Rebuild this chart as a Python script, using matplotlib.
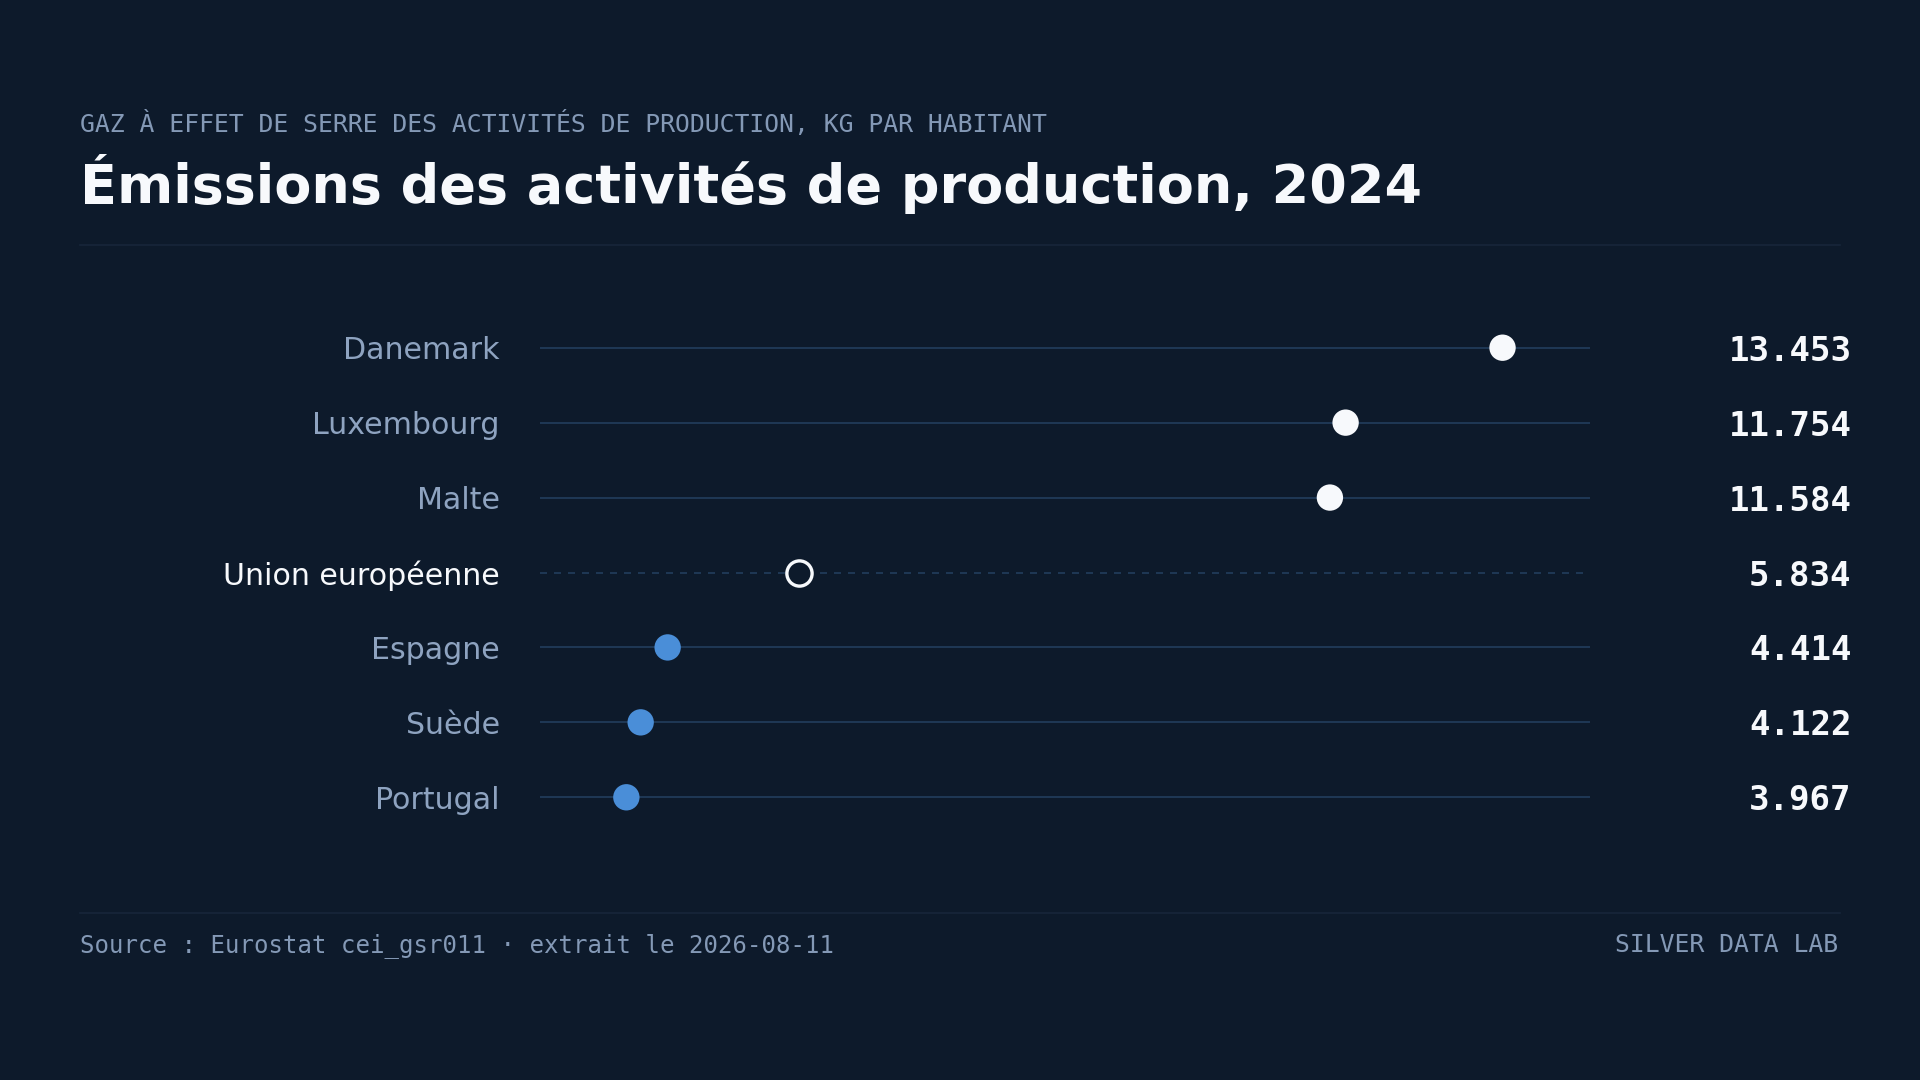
import matplotlib
matplotlib.use("Agg")
import matplotlib.pyplot as plt
import matplotlib.transforms as mtransforms
from matplotlib.lines import Line2D

# ---- data ----
countries = ["Danemark", "Luxembourg", "Malte", "Union européenne", "Espagne", "Suède", "Portugal"]
values = [13.453, 11.754, 11.584, 5.834, 4.414, 4.122, 3.967]
value_labels = ["13.453", "11.754", "11.584", "5.834", "4.414", "4.122", "3.967"]
reference = "Union européenne"

subtitle = "GAZ À EFFET DE SERRE DES ACTIVITÉS DE PRODUCTION, KG PAR HABITANT"
title = "Émissions des activités de production, 2024"
source = "Source : Eurostat cei_gsr011 · extrait le 2026-08-11"
brand = "SILVER DATA LAB"

# ---- style ----
BG = "#0d1a2b"
WHITE = "#f7f9fc"
BLUE = "#4a8ed8"
LABEL = "#8ea3c0"
MUTED = "#8499b6"
TRACK = "#1f3856"
RULE = "#17263a"

W, H = 1920, 1080
fig = plt.figure(figsize=(W / 100, H / 100), dpi=100, facecolor=BG)

# header
fig.text(80 / W, 1 - 132 / H, subtitle, family="DejaVu Sans Mono", fontsize=17.8,
         color=MUTED, va="baseline", ha="left")
fig.text(80 / W, 1 - 203 / H, title, family="DejaVu Sans", fontweight="bold",
         fontsize=38.9, color=WHITE, va="baseline", ha="left")
fig.add_artist(Line2D([80 / W, 1840 / W], [1 - 245 / H, 1 - 245 / H],
                      transform=fig.transFigure, color=RULE, lw=1.2))

# plot area
ax = fig.add_axes([540 / W, 1 - 846 / H, 1050 / W, 547 / H])
ax.set_facecolor(BG)
ax.set_xlim(3.032, 14.40)
n = len(countries)
ax.set_ylim(n - 0.35, -0.65)
ax.axis("off")

ref_val = values[countries.index(reference)]
lab_tr = mtransforms.blended_transform_factory(ax.transAxes, ax.transData)

for i, (c, v, lab) in enumerate(zip(countries, values, value_labels)):
    is_ref = c == reference
    if is_ref:
        ax.plot([3.032, 14.40], [i, i], color=TRACK, lw=1.4, ls=(0, (3.6, 3.6)),
                zorder=1, solid_capstyle="butt")
        ax.scatter([v], [i], s=330, facecolor=BG, edgecolor=WHITE, linewidth=2.4, zorder=3)
    else:
        ax.axhline(i, color=TRACK, lw=1.4, zorder=1)
        col = WHITE if v > ref_val else BLUE
        ax.scatter([v], [i], s=360, color=col, edgecolor="none", zorder=3)
    ax.text(-0.0381, i, c, transform=lab_tr, ha="right", va="center_baseline",
            fontsize=21.6, color=WHITE if is_ref else LABEL, family="DejaVu Sans")
    ax.text(1.2490, i, lab, transform=lab_tr, ha="right", va="center_baseline",
            fontsize=24.5, color=WHITE, family="DejaVu Sans Mono", fontweight="bold")

# footer
fig.add_artist(Line2D([80 / W, 1840 / W], [1 - 913 / H, 1 - 913 / H],
                      transform=fig.transFigure, color=RULE, lw=1.2))
fig.text(80 / W, 1 - 943 / H, source, family="DejaVu Sans Mono", fontsize=17.25,
         color=MUTED, va="center_baseline", ha="left")
fig.text(1838 / W, 1 - 943 / H, brand, family="DejaVu Sans Mono", fontsize=17.8,
         color=MUTED, va="center_baseline", ha="right")

fig.savefig("out.png", dpi=100, facecolor=BG)
